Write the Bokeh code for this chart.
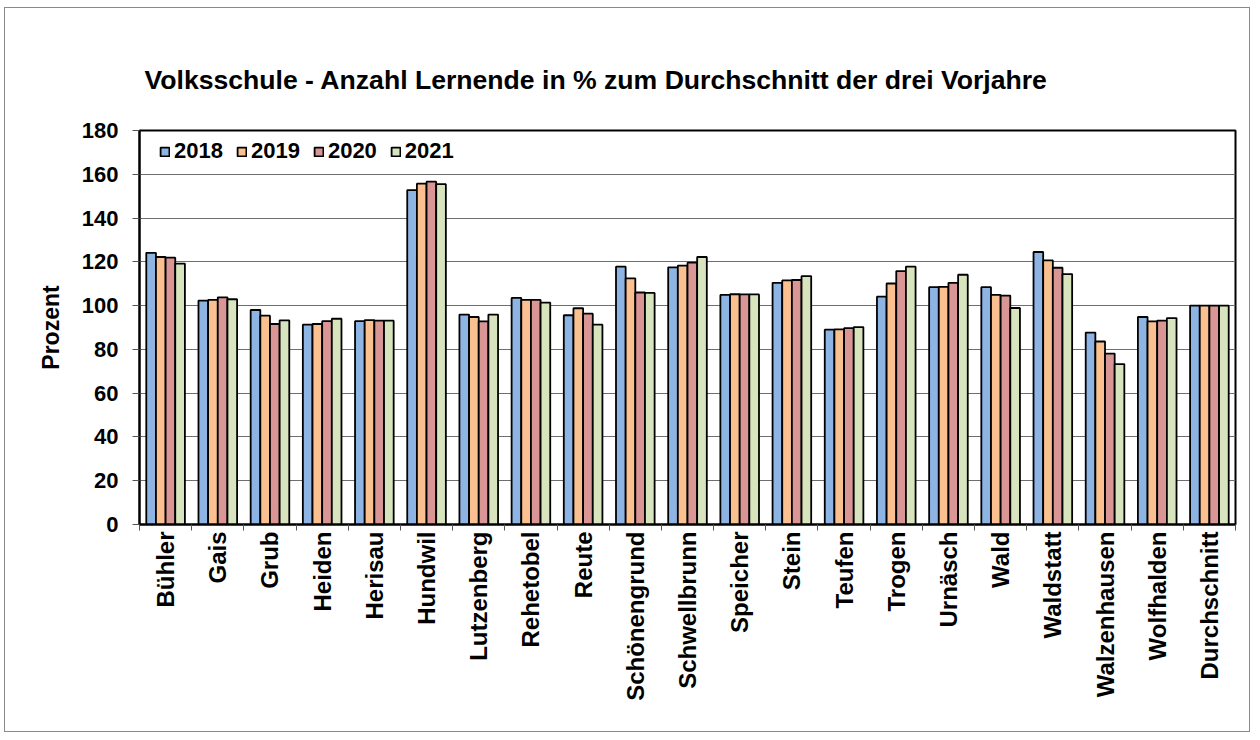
import numpy as np
from bokeh.plotting import figure
from bokeh.models import ColumnDataSource, FixedTicker, Legend, LegendItem
from bokeh.transform import dodge
from bokeh.embed import file_html
from bokeh.resources import INLINE

# ---- data ----
gemeinden = ["Bühler", "Gais", "Grub", "Heiden", "Herisau", "Hundwil", "Lutzenberg",
             "Rehetobel", "Reute", "Schönengrund", "Schwellbrunn", "Speicher", "Stein",
             "Teufen", "Trogen", "Urnäsch", "Wald", "Waldstatt", "Walzenhausen",
             "Wolfhalden", "Durchschnitt"]
years = ["2018", "2019", "2020", "2021"]
v2018 = [124.1, 102.3, 98.0, 91.3, 92.9, 152.8, 95.9, 103.5, 95.6, 117.8, 117.5, 104.9,
         110.4, 89.0, 104.1, 108.4, 108.4, 124.5, 87.7, 94.8, 100.0]
v2019 = [122.2, 102.6, 95.4, 91.6, 93.4, 155.7, 94.8, 102.6, 98.8, 112.4, 118.3, 105.2,
         111.5, 89.1, 110.1, 108.6, 104.9, 120.7, 83.6, 92.8, 100.0]
v2020 = [121.9, 103.8, 91.6, 92.9, 93.1, 156.6, 92.8, 102.6, 96.3, 106.0, 119.6, 105.1,
         111.7, 89.7, 115.8, 110.4, 104.6, 117.3, 78.1, 93.1, 100.0]
v2021 = [119.2, 102.9, 93.3, 94.0, 93.1, 155.5, 95.9, 101.4, 91.3, 105.8, 122.2, 105.1,
         113.5, 90.2, 117.8, 114.1, 98.9, 114.4, 73.3, 94.3, 100.0]
colors = ["#8EB4E3", "#FAC090", "#D99694", "#D7E4BD"]
y_ticks = [0, 20, 40, 60, 80, 100, 120, 140, 160, 180]
title_text = "Volksschule - Anzahl Lernende in % zum Durchschnitt der drei Vorjahre"

n = len(gemeinden)
pos = np.arange(n) + 0.5
src = ColumnDataSource(dict(pos=pos, y2018=v2018, y2019=v2019, y2020=v2020, y2021=v2021))

FONT = "Liberation Sans"
W, H = 1246, 725
p = figure(width=W, height=H, output_backend="svg", toolbar_location=None,
           x_range=(0, n), y_range=(0, 180),
           min_border_left=134, min_border_right=16, min_border_top=122, min_border_bottom=209)
p.styles = {"border": "1px solid #8a8a8a", "margin-left": "4px", "margin-top": "7px"}
p.background_fill_color = "white"
p.border_fill_color = "white"
p.outline_line_color = "black"
p.outline_line_width = 2

p.title.text = title_text
p.title.text_font = FONT
p.title.text_font_style = "bold"
p.title.text_font_size = "26.6px"
p.title.text_color = "black"
p.title.align = "left"
p.title.offset = 5
p.title.standoff = 71

bw = 0.185
items = []
for k, (yr, col) in enumerate(zip(years, colors)):
    r = p.vbar(x=dodge("pos", (k - 1.5) * bw), top="y" + yr, width=bw, source=src,
               fill_color=col, line_color="black", line_width=1.8)
    items.append(LegendItem(label=yr, renderers=[r]))

# grid
p.xgrid.visible = False
p.ygrid.ticker = FixedTicker(ticks=y_ticks)
p.ygrid.grid_line_color = "#6e6e6e"
p.ygrid.grid_line_width = 1

# y axis
ya = p.yaxis[0]
ya.ticker = FixedTicker(ticks=y_ticks)
ya.axis_label = "Prozent"
ya.axis_label_text_font = FONT
ya.axis_label_text_font_style = "bold"
ya.axis_label_text_font_size = "23px"
ya.axis_label_text_color = "black"
ya.axis_label_standoff = 15
ya.major_label_text_font = FONT
ya.major_label_text_font_style = "bold"
ya.major_label_text_font_size = "22px"
ya.major_label_text_color = "black"
ya.major_label_standoff = 14
ya.major_tick_out = 7
ya.major_tick_in = 0
ya.minor_tick_out = 0
ya.minor_tick_in = 0
ya.axis_line_color = "black"
ya.axis_line_width = 2
ya.major_tick_line_color = "#555555"

# x axis: labels at centres, ticks at boundaries (minor ticks)
xa = p.xaxis[0]
xa.ticker = FixedTicker(ticks=list(pos), minor_ticks=list(range(n + 1)))
xa.major_label_overrides = {float(c): g for c, g in zip(pos, gemeinden)}
xa.major_label_orientation = np.pi / 2
xa.major_label_text_font = FONT
xa.major_label_text_font_style = "bold"
xa.major_label_text_font_size = "24px"
xa.major_label_text_color = "black"
xa.major_label_standoff = 1
xa.major_tick_out = 0
xa.major_tick_in = 0
xa.minor_tick_out = 6
xa.minor_tick_in = 0
xa.minor_tick_line_color = "#555555"
xa.axis_line_color = "black"
xa.axis_line_width = 2

# legend
frame_h = 392
leg = Legend(items=items, orientation="horizontal", location=(20, frame_h - 6 - 26),
             padding=0, margin=0, spacing=13, glyph_width=11, glyph_height=11,
             label_standoff=4, border_line_color=None, background_fill_alpha=0,
             label_text_font=FONT, label_text_font_style="bold", label_text_font_size="22px",
             label_text_color="black")
p.add_layout(leg, "center")

open("out.html", "w").write(file_html(p, INLINE))
